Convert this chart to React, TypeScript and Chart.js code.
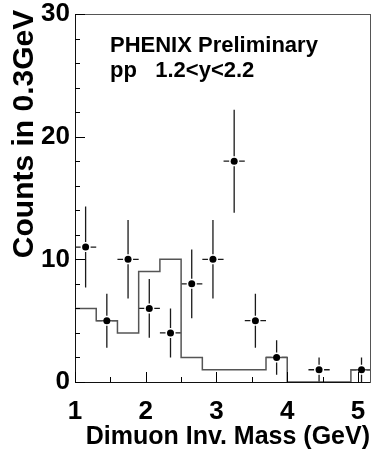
import { useEffect, useRef } from 'react';
import { Chart, registerables } from 'chart.js';

Chart.register(...registerables);

// ---- data ----
const MASS_CENTERS = [1.15, 1.45, 1.75, 2.05, 2.35, 2.65, 2.95, 3.25, 3.55, 3.85, 4.45, 5.05];
const COUNTS = [11, 5, 10, 6, 4, 8, 10, 18, 5, 2, 1, 1];
const COUNT_ERRORS = [3.3, 2.2, 3.2, 2.4, 2.0, 2.8, 3.2, 4.2, 2.2, 1.4, 1.0, 1.0];
const MASS_HALF_WIDTHS = [0.15, 0.15, 0.15, 0.15, 0.15, 0.15, 0.15, 0.15, 0.15, 0.15, 0.15, 0.15];

const HIST_EDGES = [1.0, 1.3, 1.6, 1.9, 2.2, 2.5, 2.8, 3.1, 3.4, 3.7, 4.0, 4.3, 4.6, 4.9, 5.2];
const HIST_VALUES = [6, 5, 4, 9, 10, 2, 1, 1, 1, 2, 0, 0, 0, 1];

const X_MAJOR_TICKS = [1, 2, 3, 4, 5];
const X_MINOR_TICKS = [1.5, 2.5, 3.5, 4.5];
const Y_MAJOR_TICKS = [0, 10, 20, 30];
const Y_MINOR_TICKS = [2, 4, 6, 8, 12, 14, 16, 18, 22, 24, 26, 28];
const X_RANGE = [1, 5.17];
const Y_RANGE = [0, 30];

const X_TITLE = 'Dimuon Inv. Mass (GeV)';
const Y_TITLE = 'Counts in 0.3GeV';
const LABEL_LINES = ['PHENIX Preliminary', 'pp   1.2<y<2.2'];

const FONT = "'Liberation Sans', Arial, Helvetica, sans-serif";

const zeroPad = (s: any) => {
  s.paddingLeft = 0;
  s.paddingRight = 0;
  s.paddingTop = 0;
  s.paddingBottom = 0;
};

const errorBarPlugin = {
  id: 'errorBars',
  beforeDatasetsDraw(chart: any) {
    const { ctx, chartArea, scales } = chart;
    const xs = scales.x;
    const ys = scales.y;
    ctx.save();
    ctx.beginPath();
    ctx.rect(chartArea.left, chartArea.top, chartArea.right - chartArea.left, chartArea.bottom - chartArea.top);
    ctx.clip();
    ctx.strokeStyle = '#1a1a1a';
    ctx.lineWidth = 1.3;
    const gap = 5;
    MASS_CENTERS.forEach((m, i) => {
      const px = xs.getPixelForValue(m);
      const py = ys.getPixelForValue(COUNTS[i]);
      const top = ys.getPixelForValue(COUNTS[i] + COUNT_ERRORS[i]);
      const bot = ys.getPixelForValue(COUNTS[i] - COUNT_ERRORS[i]);
      const left = xs.getPixelForValue(m - MASS_HALF_WIDTHS[i]);
      const right = xs.getPixelForValue(m + MASS_HALF_WIDTHS[i]);
      ctx.beginPath();
      if (top < py - gap) {
        ctx.moveTo(px, top);
        ctx.lineTo(px, py - gap);
      }
      if (bot > py + gap) {
        ctx.moveTo(px, py + gap);
        ctx.lineTo(px, bot);
      }
      ctx.moveTo(left, py);
      ctx.lineTo(px - gap, py);
      ctx.moveTo(px + gap, py);
      ctx.lineTo(right, py);
      ctx.stroke();
    });
    ctx.restore();
  },
};

// inward-pointing tick marks, placed through the chart's own scales
const tickMarkPlugin = {
  id: 'tickMarks',
  afterDraw(chart: any) {
    const { ctx, chartArea, scales } = chart;
    const xs = scales.x;
    const ys = scales.y;
    const bottom = chartArea.bottom;
    const left = chartArea.left;
    ctx.save();
    ctx.strokeStyle = '#000';
    ctx.lineWidth = 1;
    ctx.beginPath();
    const xTick = (v: number, len: number) => {
      const p = Math.round(xs.getPixelForValue(v)) + 0.5;
      ctx.moveTo(p, bottom);
      ctx.lineTo(p, bottom - len);
    };
    const yTick = (v: number, len: number) => {
      const p = Math.round(ys.getPixelForValue(v)) + 0.5;
      ctx.moveTo(left, p);
      ctx.lineTo(left + len, p);
    };
    X_MAJOR_TICKS.forEach((v) => xTick(v, 10));
    X_MINOR_TICKS.forEach((v) => xTick(v, 5));
    Y_MAJOR_TICKS.forEach((v) => yTick(v, 10));
    Y_MINOR_TICKS.forEach((v) => yTick(v, 5));
    ctx.stroke();
    ctx.restore();
  },
};

const textPlugin = {
  id: 'texts',
  afterDraw(chart: any) {
    const { ctx, chartArea } = chart;
    ctx.save();
    ctx.fillStyle = '#000';
    ctx.textBaseline = 'alphabetic';
    ctx.textAlign = 'left';
    ctx.font = `bold 22px ${FONT}`;
    ctx.fillText(LABEL_LINES[0], chartArea.left + 35, chartArea.top + 38);
    ctx.fillText(LABEL_LINES[1], chartArea.left + 35, chartArea.top + 63);
    ctx.font = `bold 30px ${FONT}`;
    ctx.translate(33, 134);
    ctx.rotate(-Math.PI / 2);
    ctx.textAlign = 'center';
    ctx.fillText(Y_TITLE, 0, 0);
    ctx.restore();
  },
};

export default function App() {
  const ref = useRef<HTMLCanvasElement>(null);
  useEffect(() => {
    document.body.style.margin = '0';
    const canvas = ref.current;
    if (!canvas) return;
    const tickFont = { family: FONT, size: 26, weight: 'bold' as const, lineHeight: 1 };
    const chart = new Chart(canvas, {
      type: 'scatter',
      data: {
        datasets: [
          {
            type: 'scatter',
            data: MASS_CENTERS.map((m, i) => ({ x: m, y: COUNTS[i] })),
            pointRadius: 3.5,
            pointBackgroundColor: '#000',
            pointBorderWidth: 0,
            xAxisID: 'x',
            yAxisID: 'y',
            order: 0,
          },
          {
            type: 'line',
            data: HIST_EDGES.map((e, i) => ({ x: e, y: HIST_VALUES[Math.min(i, HIST_VALUES.length - 1)] })),
            stepped: 'before',
            borderColor: '#555',
            borderWidth: 1.5,
            pointRadius: 0,
            fill: false,
            xAxisID: 'x',
            yAxisID: 'y',
            order: 1,
          } as any,
        ],
      },
      options: {
        animation: false,
        responsive: false,
        devicePixelRatio: 1,
        events: [],
        layout: { padding: { left: 0, top: 14, right: 1.5, bottom: 0 } },
        plugins: { legend: { display: false }, tooltip: { enabled: false } },
        scales: {
          x: {
            type: 'linear',
            axis: 'x',
            position: 'bottom',
            min: X_RANGE[0],
            max: X_RANGE[1],
            afterBuildTicks: (s: any) => { s.ticks = X_MAJOR_TICKS.map((v) => ({ value: v })); },
            afterFit: (s: any) => { s.height = 68; zeroPad(s); },
            grid: { drawOnChartArea: false, drawTicks: false },
            border: { display: true, color: '#111', width: 1 },
            ticks: { font: tickFont, color: '#000', padding: 17, autoSkip: false, maxRotation: 0, callback: (v: any) => String(v) },
            title: { display: true, text: X_TITLE, align: 'end', color: '#000', font: { family: FONT, size: 25, weight: 'bold', lineHeight: 1 }, padding: 0 },
          },
          y: {
            type: 'linear',
            axis: 'y',
            position: 'left',
            min: Y_RANGE[0],
            max: Y_RANGE[1],
            afterBuildTicks: (s: any) => { s.ticks = Y_MAJOR_TICKS.map((v) => ({ value: v })); },
            afterFit: (s: any) => { s.width = 75; zeroPad(s); },
            grid: { drawOnChartArea: false, drawTicks: false },
            border: { display: true, color: '#111', width: 1 },
            ticks: { font: tickFont, color: '#000', padding: 5, autoSkip: false, callback: (v: any) => String(v) },
          },
          xTop: {
            type: 'linear',
            axis: 'x',
            position: 'top',
            min: X_RANGE[0],
            max: X_RANGE[1],
            afterFit: (s: any) => { s.height = 0; zeroPad(s); },
            grid: { display: false, drawTicks: false },
            border: { display: true, color: '#555', width: 1 },
            ticks: { display: false },
          },
          yRight: {
            type: 'linear',
            axis: 'y',
            position: 'right',
            min: Y_RANGE[0],
            max: Y_RANGE[1],
            afterFit: (s: any) => { s.width = 0; zeroPad(s); },
            grid: { display: false, drawTicks: false },
            border: { display: true, color: '#555', width: 1 },
            ticks: { display: false },
          },
        } as any,
      },
      plugins: [errorBarPlugin, tickMarkPlugin, textPlugin],
    });
    return () => chart.destroy();
  }, []);
  return <canvas ref={ref} width={374} height={450} style={{ display: 'block', width: 374, height: 450 }} />;
}
